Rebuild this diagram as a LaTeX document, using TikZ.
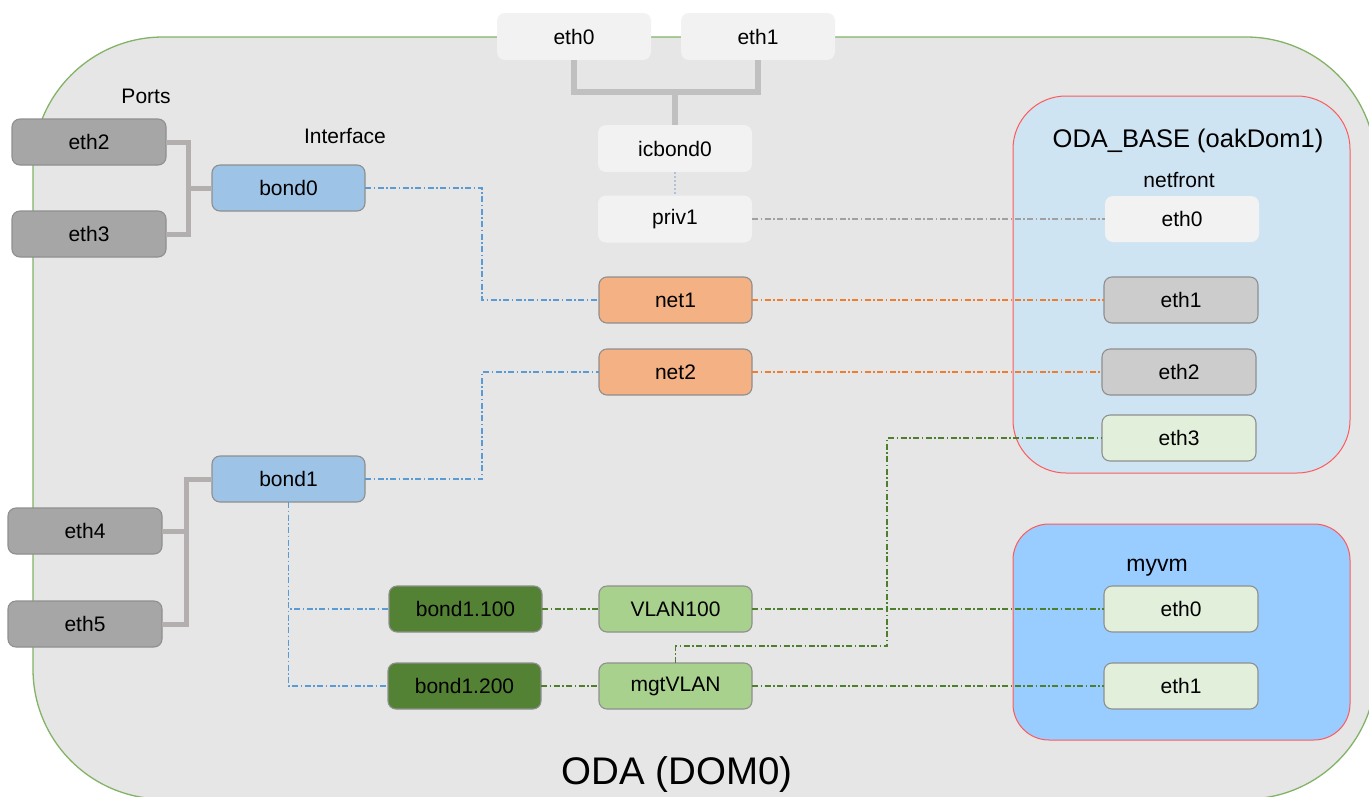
\documentclass[tikz,border=0pt]{standalone}
\usepackage{fontspec}
\setmainfont{Liberation Sans}
\definecolor{odafill}{HTML}{E6E6E6}
\definecolor{odaline}{HTML}{82B366}
\definecolor{basefill}{HTML}{CFE4F3}
\definecolor{vmfill}{HTML}{99CCFF}
\definecolor{redline}{HTML}{FF5A5A}
\definecolor{lightbox}{HTML}{F2F2F2}
\definecolor{portfill}{HTML}{A6A6A6}
\definecolor{bondfill}{HTML}{9DC3E6}
\definecolor{netfill}{HTML}{F4B183}
\definecolor{dkgreen}{HTML}{548235}
\definecolor{ltgreen}{HTML}{A9D18E}
\definecolor{palegreen}{HTML}{E2EFDA}
\definecolor{nicgray}{HTML}{CCCCCC}
\definecolor{boxline}{HTML}{8F8F8F}
\definecolor{thickgray}{HTML}{C0C0C0}
\definecolor{portline}{HTML}{B3AFAF}
\definecolor{blueline}{HTML}{5B9BD5}
\definecolor{orangeline}{HTML}{ED7D31}
\definecolor{greenline}{HTML}{4E7F2C}
\definecolor{grayline}{HTML}{A0A0A0}
\definecolor{dotline}{HTML}{B0C2D6}
\begin{document}
\begin{tikzpicture}[x=1pt,y=-1pt,
  box/.style={rounded corners=8pt, draw=boxline, line width=1.1pt, minimum width=154pt, minimum height=46pt, inner sep=0pt, outer sep=0pt, font=\fontsize{21}{25}\selectfont},
  plainbox/.style={box, draw=none},
  lbl/.style={anchor=base, inner sep=0pt, font=\fontsize{21}{25}\selectfont},
  dd/.style={line width=1.3pt, dash pattern=on 6pt off 2.5pt on 1.5pt off 2.5pt},
  thickc/.style={line width=6pt, draw=thickgray},
  portc/.style={line width=5pt, draw=portline}]
\useasboundingbox (0,0) rectangle (1369,796);
\clip (0,0) rectangle (1369,796);
\fill[white] (0,0) rectangle (1369,796);
% outer ODA container
\draw[fill=odafill, draw=odaline, line width=1.3pt, rounded corners=130pt] (33,37) rectangle (1376,799);
% ODA_BASE container
\draw[fill=basefill, draw=redline, line width=1pt, rounded corners=53pt] (1013,96) rectangle (1350,473);
% myvm container
\draw[fill=vmfill, draw=redline, line width=1pt, rounded corners=36pt] (1013,524) rectangle (1350,740);

% labels
\node[lbl] (lports) at (146,103) {Ports};
\node[lbl] (liface) at (345,143) {Interface};
\node[lbl] (lnetfront) at (1179,187) {netfront};
\node[lbl, font=\fontsize{25.5}{30}\selectfont] (lbase) at (1188,147) {ODA\_BASE (oakDom1)};
\node[lbl, font=\fontsize{23}{28}\selectfont] (lvm) at (1157,571) {myvm};
\node[lbl, font=\fontsize{38.5}{46}\selectfont] (loda) at (677,784) {ODA (DOM0)};

% nodes
\node[plainbox, fill=lightbox, minimum height=47pt] (t0) at (574,36.5) {eth0};
\node[plainbox, fill=lightbox, minimum height=47pt] (t1) at (758,36.5) {eth1};
\node[plainbox, fill=lightbox, minimum height=47pt] (icb) at (675,148.5) {icbond0};
\node[plainbox, fill=lightbox, minimum height=47pt] (priv) at (675,219) {priv1};

\node[box, fill=portfill] (p2) at (89,142) {eth2};
\node[box, fill=portfill] (p3) at (89,234) {eth3};
\node[box, fill=portfill] (p4) at (85,531) {eth4};
\node[box, fill=portfill] (p5) at (85,624) {eth5};

\node[box, fill=bondfill, minimum width=153pt] (bond0) at (288.5,188) {bond0};
\node[box, fill=bondfill, minimum width=153pt] (bond1) at (288.5,479) {bond1};

\node[box, fill=netfill, minimum width=153pt] (net1) at (675.5,300) {net1};
\node[box, fill=netfill, minimum width=153pt] (net2) at (675.5,372) {net2};

\node[box, fill=dkgreen, minimum width=153pt] (b100) at (465.5,609) {bond1.100};
\node[box, fill=dkgreen, minimum width=153pt] (b200) at (464.5,686) {bond1.200};
\node[box, fill=ltgreen, minimum width=153pt] (v100) at (675.5,609) {VLAN100};
\node[box, fill=ltgreen, minimum width=153pt] (mgt) at (675.5,686) {mgtVLAN};

\node[plainbox, fill=lightbox] (n0) at (1182,219) {eth0};
\node[box, fill=nicgray] (n1) at (1181,300) {eth1};
\node[box, fill=nicgray] (n2) at (1179,372) {eth2};
\node[box, fill=palegreen] (n3) at (1179,438) {eth3};

\node[box, fill=palegreen] (m0) at (1181,609) {eth0};
\node[box, fill=palegreen] (m1) at (1181,686) {eth1};

% thick connectors
\coordinate (tj) at (675,92);
\draw[thickc] (t0.south) |- (tj);
\draw[thickc] (t1.south) |- (tj);
\draw[thickc] (tj) -- (icb.north);

\coordinate (j0) at (188,188);
\draw[portc] (p2.east) -| (j0);
\draw[portc] (p3.east) -| (j0);
\draw[portc] (j0) -- (bond0.west);

\coordinate (j1) at (186,479);
\draw[portc] (bond1.west) -- (j1) |- (p5.east);
\draw[portc] (p4.east) -- (p4.east -| j1);

% dash-dot connectors
\draw[dd, draw=dotline, dash pattern=on 2pt off 2pt] (icb.south) -- (priv.north);
\draw[dd, draw=grayline] (priv.east) -- (n0.west);

\coordinate (bx) at (482,240);
\draw[dd, draw=blueline] (bond0.east) -| (bx |- net1.west) -- (net1.west);
\draw[dd, draw=blueline] (bond1.east) -| (bx |- net2.west) -- (net2.west);
\draw[dd, draw=blueline] (bond1.south) |- (b100.west);
\draw[dd, draw=blueline] (bond1.south) |- (b200.west);

\draw[dd, draw=orangeline] (net1.east) -- (n1.west);
\draw[dd, draw=orangeline] (net2.east) -- (n2.west);

\draw[dd, draw=greenline] (b100.east) -- (v100.west);
\draw[dd, draw=greenline] (b200.east) -- (mgt.west);
\draw[dd, draw=greenline] (v100.east) -- (m0.west);
\draw[dd, draw=greenline] (mgt.east) -- (m1.west);
\coordinate (gx) at (887,646);
\draw[dd, draw=greenline] (mgt.north) |- (gx) |- (n3.west);
\end{tikzpicture}
\end{document}
